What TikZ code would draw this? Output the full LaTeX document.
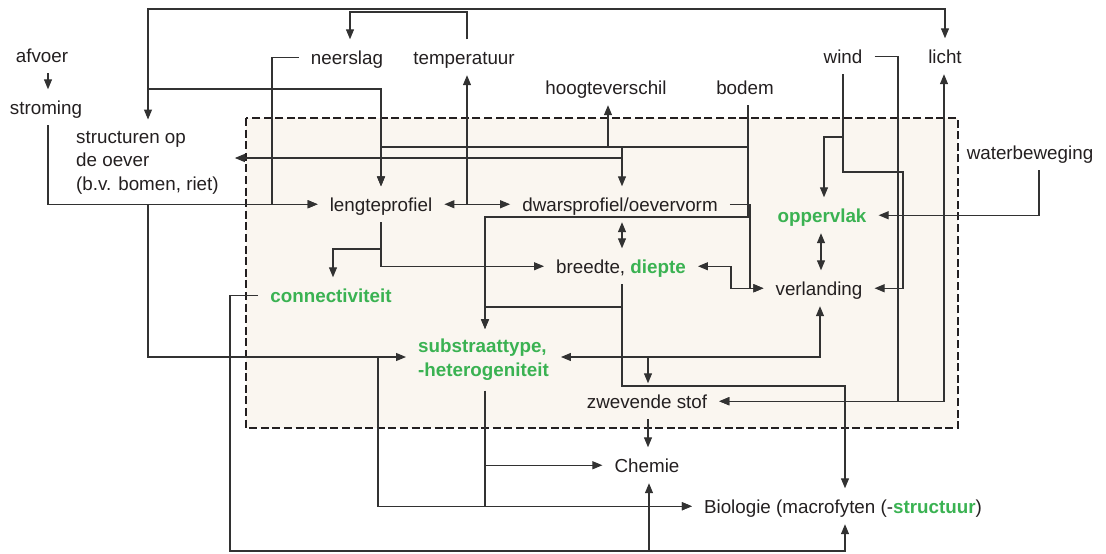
\documentclass[tikz,border=0pt]{standalone}
\usepackage{fontspec}
\setmainfont{Liberation Sans}
\usetikzlibrary{arrows.meta}
\definecolor{ink}{RGB}{35,31,32}
\definecolor{wirecol}{RGB}{50,50,50}
\definecolor{leaf}{RGB}{58,178,82}
\definecolor{cream}{RGB}{250,246,240}
\begin{document}
\begin{tikzpicture}[x=1pt,y=-1pt,
  lbl/.style={inner xsep=12pt, inner ysep=11pt, text height=13.5pt, text depth=0pt,
    anchor=base, font=\fontsize{18.8}{23.5}\selectfont, text=ink},
  mlbl/.style={inner xsep=12pt, inner ysep=10pt, anchor=north west, align=left,
    font=\fontsize{18.8}{23.5}\selectfont, text=ink},
  hl/.style={text=leaf, font=\fontsize{18.8}{23.5}\selectfont\bfseries},
  wire/.style={draw=wirecol, line width=1.15pt},
  arr/.style={wire, -{Triangle[length=10pt,width=8pt]}},
  arrs/.style={wire, {Triangle[length=10pt,width=8pt]}-{Triangle[length=10pt,width=8pt]}},
]
\useasboundingbox (0,0) rectangle (1106,554);

% water system frame
\draw[fill=cream, draw=ink, line width=2.7pt, dash pattern=on 8pt off 3.6pt] (246,118) rectangle (958,428);

% labels
\node[lbl] (afvoer) at (42,62) {afvoer};
\node[lbl] (strom) at (46,114) {stroming};
\node[lbl] (neer) at (347,64) {neerslag};
\node[lbl] (temp) at (464,64) {temperatuur};
\node[lbl] (wind) at (843,63) {wind};
\node[lbl] (licht) at (945,63) {licht};
\node[lbl] (hoogte) at (606,94) {hoogteverschil};
\node[lbl] (bodem) at (745,94) {bodem};
\node[lbl] (water) at (1030,159) {waterbeweging};
\node[mlbl, inner xsep=16pt] (strukt) at (60,119.5)
  {\rule{0pt}{13.5pt}structuren op\\de oever\\(b.v. bomen, riet)\rule[-4pt]{0pt}{4pt}};
\node[lbl] (lengte) at (381,211) {lengteprofiel};
\node[lbl] (dwars) at (620,211) {dwarsprofiel/oevervorm};
\node[lbl,hl] (opper) at (822,222) {oppervlak};
\node[lbl] (breedte) at (621,273) {breedte, \textcolor{leaf}{\bfseries diepte}};
\node[lbl] (verl) at (819,295) {verlanding};
\node[lbl,hl] (conn) at (331,302) {connectiviteit};
\node[mlbl,hl] (subst) at (406,329)
  {\rule{0pt}{13.5pt}substraattype,\\-heterogeniteit\rule[-4pt]{0pt}{4pt}};
\node[lbl] (zwev) at (647,408) {zwevende stof};
\node[lbl] (chemie) at (647,472) {Chemie};
\node[lbl] (bio) at (843,513) {Biologie (macrofyten (-\textcolor{leaf}{\bfseries structuur})};

% afvoer, stroming, neerslag, temperatuur
\draw[arr] (afvoer.south -| 48,0) -- (strom.north -| 48,0);
\draw[arr] (strom.south -| 48,0) |- (lengte.west);
\draw[arr] (neer.west) -- (272,0 |- neer.west) |- (lengte.west);
\draw[arr] (temp.north -| 467,0) -- (467,12) -| (neer.north -| 350,0);

% structuren op de oever, licht
\draw[arrs] (strukt.north -| 148,0) -- (148,9) -| (licht.north -| 945,0);
\draw[arr] (148,89) -| (lengte.north -| 381,0);

% bodem
\draw[arr] (bodem.south -| 748,0) -- (748,217) -| (subst.north -| 485,0);
\draw[arr] (748,147) -| (lengte.north -| 381,0);
\draw[arr] (608,147) -- (hoogte.south -| 608,0);
\draw[arr] (622,147) -- (dwars.north -| 622,0);
\draw[arr] (622,158) -- (strukt.east |- 0,158);

% lengteprofiel, dwarsprofiel, temperatuur
\draw[arrs] (lengte.east) -- (dwars.west);
\draw[arr] (lengte.east -| 467,0) -- (temp.south -| 467,0);
\draw[arrs] (dwars.south -| 622,0) -- (breedte.north -| 622,0);
\draw[arr] (dwars.east) -- (750,0 |- dwars.east) |- (verl.west);
\draw[arrs] (breedte.east) -- (731,0 |- breedte.east) |- (verl.west);
\draw[arr] (lengte.south -| 381,0) |- (breedte.west);
\draw[arr] (381,249) -| (conn.north -| 333,0);

% breedte, substraat, zwevende stof
\draw[arr] (breedte.south -| 622,0) -- (622,386) -| (bio.north -| 845,0);
\draw[arr] (622,307) -| (subst.north -| 485,0);
\draw[arrs] (subst.east |- 0,357) -| (verl.south -| 820,0);
\draw[arr] (648,357) -- (zwev.north -| 648,0);
\draw[arr] (strukt.south -| 148,0) |- (subst.west |- 0,357);
\draw[arr] (378,357) |- (bio.west);
\draw[arr] (subst.south -| 485,0) |- (bio.west);
\draw[arr] (485,0 |- chemie.west) -- (chemie.west);
\draw[arr] (zwev.south -| 648,0) -- (chemie.north -| 648,0);

% connectiviteit
\draw[arr] (conn.west) -- (230,0 |- conn.west) -- (230,551) -| (bio.south -| 845,0);
\draw[arr] (649,551) -- (chemie.south -| 649,0);

% wind, licht, waterbeweging
\draw[arr] (wind.east) -- (898,0 |- wind.east) |- (zwev.east);
\draw[arr] (wind.south -| 843,0) -- (843,172) -- (903,172) |- (verl.east);
\draw[arr] (843,137) -| (opper.north -| 824,0);
\draw[arrs] (zwev.east) -| (licht.south -| 944,0);
\draw[arr] (water.south -| 1039,0) |- (opper.east);
\draw[arrs] (opper.south -| 821,0) -- (verl.north -| 821,0);
\end{tikzpicture}
\end{document}
